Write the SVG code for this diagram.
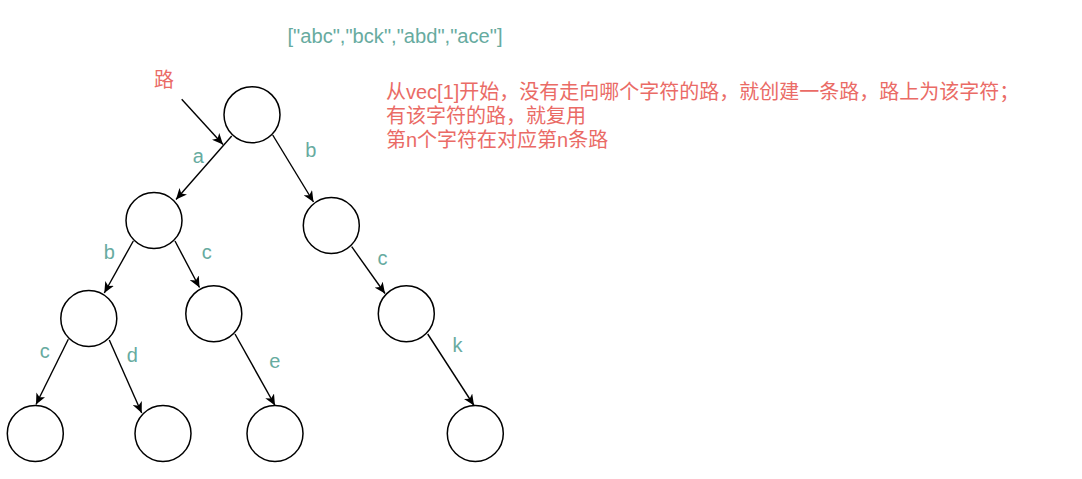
<svg xmlns="http://www.w3.org/2000/svg" width="1082" height="479" viewBox="0 0 1082 479">
<style>
.node{fill:#ffffff;stroke:#000000;stroke-width:1.5}
.edge{fill:none;stroke:#000000;stroke-width:1.4;marker-end:url(#arrow)}
.lbl{font-family:"Liberation Sans",Arial,sans-serif;font-size:20px;fill:#67AB9F;text-anchor:middle}
.note{font-family:"Liberation Sans","Noto Sans CJK SC",sans-serif;font-size:20px;fill:#EA6B66}
</style>
<defs>
<marker id="arrow" markerWidth="12" markerHeight="10" refX="11" refY="5" orient="auto" markerUnits="userSpaceOnUse">
<path d="M0,0 L11,5 L0,10 L3,5 z" fill="#000000"/>
</marker>
</defs>
<rect width="1082" height="479" fill="#ffffff"/>
<text id="title" class="lbl" x="395" y="42.5" textLength="215" lengthAdjust="spacingAndGlyphs">["abc","bck","abd","ace"]</text>
<g id="note">
<text class="note" x="386" y="99">从vec[1]开始，没有走向哪个字符的路，就创建一条路，路上为该字符；</text>
<text class="note" x="386" y="123">有该字符的路，就复用</text>
<text class="note" x="386" y="147">第n个字符在对应第n条路</text>
</g>
<text id="road-label" class="note" x="154" y="87">路</text>
<g id="nodes">
<g id="root"><circle class="node" cx="252" cy="114.7" r="28"/></g>
<g id="n-a"><circle class="node" cx="154" cy="220.5" r="28"/></g>
<g id="n-b"><circle class="node" cx="331.3" cy="225.5" r="28"/></g>
<g id="n-ab"><circle class="node" cx="88.8" cy="318.5" r="28"/></g>
<g id="n-ac"><circle class="node" cx="213.8" cy="313.7" r="28"/></g>
<g id="n-bc"><circle class="node" cx="406.3" cy="313.7" r="28"/></g>
<g id="n-abc"><circle class="node" cx="35.3" cy="433.5" r="28"/></g>
<g id="n-abd"><circle class="node" cx="163" cy="433.5" r="28"/></g>
<g id="n-ace"><circle class="node" cx="275" cy="433.5" r="28"/></g>
<g id="n-bck"><circle class="node" cx="475.3" cy="433.5" r="28"/></g>
</g>
<g id="connectors">
<line class="edge" x1="181.7" y1="99.3" x2="223" y2="144.5"/>
<line class="edge" x1="231.7" y1="136" x2="176" y2="199.5"/>
<line class="edge" x1="272.7" y1="135" x2="313.5" y2="202"/>
<line class="edge" x1="133.3" y1="241" x2="104.3" y2="293"/>
<line class="edge" x1="175" y1="241" x2="199.5" y2="287.5"/>
<line class="edge" x1="351.7" y1="246.7" x2="385" y2="293.5"/>
<line class="edge" x1="68.3" y1="339.3" x2="36" y2="404.5"/>
<line class="edge" x1="109.3" y1="340" x2="141.7" y2="413"/>
<line class="edge" x1="235" y1="334" x2="275" y2="405.5"/>
<line class="edge" x1="427.7" y1="334" x2="474" y2="405.5"/>
</g>
<g id="edge-labels">
<text class="lbl" x="198.3" y="162.7">a</text>
<text class="lbl" x="310.7" y="156.7">b</text>
<text class="lbl" x="109.3" y="259">b</text>
<text class="lbl" x="206.7" y="259">c</text>
<text class="lbl" x="382.5" y="265">c</text>
<text class="lbl" x="44.7" y="357.7">c</text>
<text class="lbl" x="132.3" y="361.7">d</text>
<text class="lbl" x="274.7" y="367.7">e</text>
<text class="lbl" x="457.5" y="351.7">k</text>
</g>
</svg>
